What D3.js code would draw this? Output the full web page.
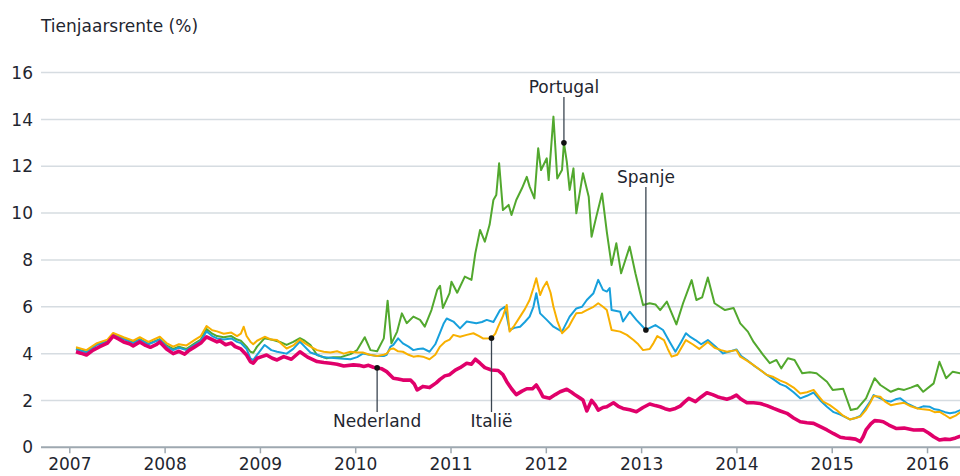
<!DOCTYPE html>
<html>
<head>
<meta charset="utf-8">
<script src="https://cdn.jsdelivr.net/npm/d3@7"></script>
<style>
  body { margin: 0; background: #fff; }
  svg text { font-family: "DejaVu Sans", Verdana, sans-serif; fill: #1f2630; }
</style>
</head>
<body>
<div id="chart"></div>
<script>
// tienjaarsrente per land, [jaar (decimaal), rente %]
const yearTicks = [2007, 2008, 2009, 2010, 2011, 2012, 2013, 2014, 2015, 2016];
const rateTicks = [0, 2, 4, 6, 8, 10, 12, 14, 16];

const nederland = [
  [2007.07, 4.08], [2007.12, 4.02], [2007.18, 3.94], [2007.25, 4.15], [2007.32, 4.3], [2007.40, 4.45], [2007.46, 4.75],
  [2007.52, 4.62], [2007.57, 4.5], [2007.63, 4.42], [2007.67, 4.33], [2007.74, 4.5], [2007.80, 4.35], [2007.85, 4.27],
  [2007.91, 4.38], [2007.95, 4.5], [2008.02, 4.2], [2008.09, 4.0], [2008.15, 4.1], [2008.21, 3.98], [2008.26, 4.15],
  [2008.32, 4.3], [2008.38, 4.45], [2008.44, 4.72], [2008.50, 4.6], [2008.55, 4.5], [2008.58, 4.55], [2008.64, 4.38],
  [2008.70, 4.45], [2008.74, 4.3], [2008.80, 4.2], [2008.86, 3.94], [2008.90, 3.66], [2008.93, 3.59], [2008.97, 3.8],
  [2009.02, 3.87], [2009.07, 3.94], [2009.13, 3.8], [2009.18, 3.73], [2009.25, 3.87], [2009.33, 3.76], [2009.42, 4.08],
  [2009.50, 3.85], [2009.60, 3.66], [2009.67, 3.62], [2009.74, 3.59], [2009.81, 3.55], [2009.88, 3.47], [2009.98, 3.52],
  [2010.04, 3.5], [2010.09, 3.45], [2010.14, 3.5], [2010.19, 3.42], [2010.23, 3.39], [2010.28, 3.35], [2010.33, 3.23],
  [2010.40, 2.95], [2010.45, 2.92], [2010.50, 2.87], [2010.58, 2.87], [2010.62, 2.7], [2010.65, 2.45], [2010.71, 2.6],
  [2010.78, 2.55], [2010.85, 2.75], [2010.89, 2.9], [2010.94, 3.05], [2010.99, 3.1], [2011.05, 3.3], [2011.10, 3.4],
  [2011.17, 3.59], [2011.22, 3.55], [2011.26, 3.76], [2011.31, 3.59], [2011.36, 3.4], [2011.43, 3.3], [2011.50, 3.28],
  [2011.55, 3.1], [2011.59, 2.8], [2011.64, 2.5], [2011.69, 2.25], [2011.75, 2.4], [2011.80, 2.5], [2011.86, 2.5],
  [2011.90, 2.66], [2011.94, 2.4], [2011.97, 2.16], [2012.04, 2.09], [2012.10, 2.25], [2012.15, 2.37], [2012.22, 2.48],
  [2012.27, 2.35], [2012.31, 2.23], [2012.36, 2.1], [2012.39, 2.02], [2012.43, 1.55], [2012.48, 2.0], [2012.52, 1.8],
  [2012.55, 1.59], [2012.60, 1.7], [2012.64, 1.73], [2012.71, 1.9], [2012.76, 1.75], [2012.81, 1.66], [2012.88, 1.6],
  [2012.95, 1.52], [2013.02, 1.7], [2013.09, 1.85], [2013.15, 1.78], [2013.20, 1.73], [2013.25, 1.65], [2013.30, 1.59],
  [2013.36, 1.66], [2013.41, 1.76], [2013.46, 1.95], [2013.50, 2.09], [2013.57, 1.95], [2013.63, 2.15], [2013.69, 2.33],
  [2013.75, 2.25], [2013.80, 2.16], [2013.85, 2.1], [2013.90, 2.05], [2013.95, 2.12], [2014.00, 2.23], [2014.05, 2.05],
  [2014.11, 1.9], [2014.18, 1.9], [2014.25, 1.87], [2014.32, 1.78], [2014.39, 1.66], [2014.46, 1.55], [2014.53, 1.45],
  [2014.60, 1.25], [2014.67, 1.09], [2014.74, 1.05], [2014.81, 1.02], [2014.88, 0.88], [2014.95, 0.74], [2015.02, 0.58],
  [2015.09, 0.43], [2015.14, 0.4], [2015.19, 0.38], [2015.25, 0.35], [2015.30, 0.24], [2015.33, 0.45], [2015.36, 0.74],
  [2015.41, 1.0], [2015.45, 1.14], [2015.50, 1.12], [2015.54, 1.09], [2015.60, 0.95], [2015.68, 0.8], [2015.76, 0.82],
  [2015.86, 0.74], [2015.96, 0.75], [2016.02, 0.6], [2016.07, 0.45], [2016.13, 0.31], [2016.19, 0.35], [2016.24, 0.33],
  [2016.30, 0.4], [2016.35, 0.48]
];

const italie = [
  [2007.07, 4.27], [2007.18, 4.15], [2007.29, 4.45], [2007.40, 4.6], [2007.46, 4.88], [2007.57, 4.7], [2007.67, 4.55],
  [2007.74, 4.7], [2007.83, 4.5], [2007.95, 4.72], [2008.02, 4.45], [2008.09, 4.3], [2008.15, 4.4], [2008.23, 4.35],
  [2008.32, 4.6], [2008.38, 4.75], [2008.44, 5.18], [2008.50, 5.0], [2008.55, 4.95], [2008.62, 4.85], [2008.70, 4.9],
  [2008.76, 4.75], [2008.80, 4.85], [2008.83, 5.15], [2008.86, 4.75], [2008.90, 4.51], [2008.93, 4.4], [2008.97, 4.55],
  [2009.05, 4.72], [2009.12, 4.6], [2009.18, 4.58], [2009.28, 4.22], [2009.35, 4.35], [2009.42, 4.6], [2009.47, 4.45],
  [2009.53, 4.3], [2009.60, 4.15], [2009.67, 4.08], [2009.74, 4.05], [2009.81, 4.1], [2009.88, 4.0], [2009.95, 4.08],
  [2010.02, 4.05], [2010.08, 4.05], [2010.15, 3.95], [2010.23, 3.9], [2010.30, 3.95], [2010.33, 4.0], [2010.37, 4.2],
  [2010.40, 4.22], [2010.45, 4.1], [2010.50, 4.08], [2010.56, 3.95], [2010.61, 3.87], [2010.66, 3.9], [2010.71, 3.87],
  [2010.78, 3.76], [2010.84, 3.95], [2010.89, 4.3], [2010.94, 4.5], [2010.99, 4.6], [2011.03, 4.8], [2011.10, 4.72],
  [2011.17, 4.8], [2011.24, 4.87], [2011.30, 4.75], [2011.34, 4.65], [2011.43, 4.66], [2011.47, 4.85], [2011.50, 5.15],
  [2011.55, 5.6], [2011.59, 6.08], [2011.62, 4.94], [2011.67, 5.2], [2011.73, 5.58], [2011.78, 5.9], [2011.83, 6.29],
  [2011.87, 6.8], [2011.90, 7.22], [2011.94, 6.5], [2011.97, 6.8], [2012.01, 7.07], [2012.05, 6.6], [2012.08, 6.0],
  [2012.12, 5.4], [2012.17, 4.87], [2012.24, 5.15], [2012.28, 5.45], [2012.32, 5.72], [2012.38, 5.75], [2012.43, 5.86],
  [2012.50, 6.0], [2012.55, 6.15], [2012.60, 6.0], [2012.64, 5.86], [2012.69, 5.01], [2012.78, 4.94], [2012.85, 4.8],
  [2012.92, 4.58], [2012.97, 4.4], [2013.02, 4.15], [2013.09, 4.2], [2013.13, 4.45], [2013.17, 4.75], [2013.24, 4.58],
  [2013.28, 4.2], [2013.32, 3.87], [2013.38, 3.95], [2013.47, 4.58], [2013.54, 4.4], [2013.61, 4.2], [2013.70, 4.5],
  [2013.77, 4.25], [2013.84, 4.15], [2013.90, 4.08], [2014.00, 4.15], [2014.04, 3.87], [2014.11, 3.7], [2014.18, 3.51],
  [2014.25, 3.3], [2014.32, 3.09], [2014.39, 3.0], [2014.46, 2.85], [2014.52, 2.75], [2014.60, 2.55], [2014.67, 2.3],
  [2014.74, 2.35], [2014.81, 2.45], [2014.86, 2.2], [2014.91, 1.95], [2014.98, 1.8], [2015.05, 1.59], [2015.12, 1.35],
  [2015.19, 1.19], [2015.25, 1.25], [2015.30, 1.31], [2015.36, 1.6], [2015.41, 1.95], [2015.44, 2.19], [2015.51, 2.16],
  [2015.56, 1.95], [2015.62, 1.8], [2015.68, 1.85], [2015.76, 1.9], [2015.83, 1.75], [2015.90, 1.66], [2015.96, 1.62],
  [2016.03, 1.59], [2016.08, 1.5], [2016.13, 1.52], [2016.18, 1.4], [2016.24, 1.24], [2016.30, 1.35], [2016.35, 1.5]
];

const spanje = [
  [2007.07, 4.18], [2007.18, 4.05], [2007.29, 4.38], [2007.40, 4.5], [2007.46, 4.8], [2007.57, 4.62], [2007.67, 4.45],
  [2007.74, 4.6], [2007.83, 4.4], [2007.95, 4.6], [2008.02, 4.3], [2008.09, 4.15], [2008.15, 4.25], [2008.23, 4.15],
  [2008.32, 4.4], [2008.38, 4.55], [2008.44, 4.95], [2008.50, 4.75], [2008.55, 4.65], [2008.62, 4.6], [2008.70, 4.65],
  [2008.76, 4.5], [2008.80, 4.45], [2008.86, 4.2], [2008.90, 3.8], [2008.93, 3.72], [2008.97, 3.95], [2009.05, 4.37],
  [2009.12, 4.15], [2009.18, 4.08], [2009.28, 4.0], [2009.35, 4.2], [2009.42, 4.51], [2009.47, 4.3], [2009.53, 4.05],
  [2009.60, 3.95], [2009.67, 3.84], [2009.74, 3.82], [2009.81, 3.8], [2009.88, 3.78], [2009.95, 3.76], [2010.02, 3.85],
  [2010.08, 4.0], [2010.15, 3.95], [2010.23, 3.9], [2010.30, 3.9], [2010.33, 3.95], [2010.37, 4.3], [2010.40, 4.37],
  [2010.45, 4.65], [2010.50, 4.44], [2010.56, 4.3], [2010.61, 4.15], [2010.66, 4.2], [2010.71, 4.22], [2010.78, 4.08],
  [2010.84, 4.4], [2010.89, 4.9], [2010.93, 5.3], [2010.96, 5.5], [2011.03, 5.37], [2011.10, 5.08], [2011.17, 5.37],
  [2011.27, 5.3], [2011.33, 5.35], [2011.38, 5.44], [2011.45, 5.35], [2011.52, 5.86], [2011.57, 6.0], [2011.62, 5.01],
  [2011.67, 5.1], [2011.73, 5.15], [2011.78, 5.35], [2011.83, 5.58], [2011.87, 6.0], [2011.90, 6.58], [2011.94, 5.72],
  [2012.01, 5.44], [2012.08, 5.15], [2012.17, 4.94], [2012.25, 5.58], [2012.32, 5.93], [2012.38, 6.0], [2012.43, 6.29],
  [2012.50, 6.58], [2012.55, 7.15], [2012.60, 6.72], [2012.64, 6.65], [2012.67, 6.8], [2012.69, 5.86], [2012.78, 5.79],
  [2012.81, 5.37], [2012.88, 5.79], [2012.95, 5.44], [2013.05, 5.01], [2013.15, 5.22], [2013.23, 5.01], [2013.30, 4.5],
  [2013.36, 4.08], [2013.42, 4.5], [2013.47, 4.87], [2013.52, 4.7], [2013.57, 4.58], [2013.63, 4.4], [2013.70, 4.58],
  [2013.78, 4.3], [2013.86, 4.01], [2013.94, 4.1], [2014.00, 4.18], [2014.05, 3.9], [2014.11, 3.73], [2014.18, 3.5],
  [2014.25, 3.3], [2014.32, 3.09], [2014.39, 2.9], [2014.46, 2.7], [2014.52, 2.6], [2014.60, 2.35], [2014.67, 2.09],
  [2014.74, 2.2], [2014.81, 2.34], [2014.88, 2.0], [2014.95, 1.73], [2015.02, 1.5], [2015.09, 1.4], [2015.19, 1.19],
  [2015.25, 1.25], [2015.30, 1.34], [2015.36, 1.7], [2015.41, 2.0], [2015.44, 2.23], [2015.51, 2.09], [2015.56, 2.0],
  [2015.62, 1.95], [2015.67, 2.05], [2015.72, 2.09], [2015.80, 1.85], [2015.90, 1.66], [2015.96, 1.75], [2016.03, 1.73],
  [2016.08, 1.62], [2016.13, 1.59], [2016.19, 1.5], [2016.24, 1.45], [2016.30, 1.5], [2016.35, 1.59]
];

const portugal = [
  [2007.07, 4.2], [2007.18, 4.08], [2007.29, 4.4], [2007.40, 4.52], [2007.46, 4.82], [2007.57, 4.65], [2007.67, 4.48],
  [2007.74, 4.62], [2007.83, 4.42], [2007.95, 4.62], [2008.02, 4.35], [2008.09, 4.2], [2008.15, 4.3], [2008.23, 4.2],
  [2008.32, 4.45], [2008.38, 4.6], [2008.44, 5.05], [2008.50, 4.85], [2008.55, 4.75], [2008.62, 4.7], [2008.70, 4.75],
  [2008.76, 4.6], [2008.80, 4.55], [2008.86, 4.3], [2008.90, 4.08], [2008.93, 4.04], [2008.97, 4.3], [2009.05, 4.66],
  [2009.14, 4.58], [2009.21, 4.5], [2009.28, 4.37], [2009.35, 4.5], [2009.42, 4.66], [2009.47, 4.55], [2009.53, 4.37],
  [2009.60, 3.94], [2009.70, 3.8], [2009.77, 3.85], [2009.84, 3.84], [2009.95, 3.98], [2010.02, 4.15], [2010.10, 4.7],
  [2010.16, 4.15], [2010.23, 4.1], [2010.30, 4.65], [2010.34, 6.26], [2010.38, 4.44], [2010.44, 4.94], [2010.49, 5.72],
  [2010.54, 5.3], [2010.61, 5.58], [2010.68, 5.44], [2010.73, 5.15], [2010.80, 5.86], [2010.86, 6.72], [2010.89, 6.9],
  [2010.92, 5.95], [2010.99, 6.58], [2011.01, 7.07], [2011.07, 6.6], [2011.15, 7.29], [2011.22, 7.15], [2011.26, 8.28],
  [2011.31, 9.28], [2011.36, 8.78], [2011.41, 9.5], [2011.45, 10.56], [2011.48, 10.77], [2011.51, 12.13], [2011.55, 10.13],
  [2011.61, 10.35], [2011.64, 9.92], [2011.69, 10.56], [2011.75, 11.06], [2011.80, 11.55], [2011.83, 11.13], [2011.88, 10.63],
  [2011.92, 12.77], [2011.95, 11.84], [2012.01, 12.34], [2012.03, 11.41], [2012.08, 14.12], [2012.12, 11.48], [2012.17, 11.84],
  [2012.19, 13.0], [2012.22, 12.2], [2012.25, 10.99], [2012.29, 11.91], [2012.32, 9.99], [2012.39, 11.7], [2012.45, 10.7],
  [2012.48, 8.99], [2012.53, 9.85], [2012.59, 10.84], [2012.64, 9.2], [2012.69, 7.78], [2012.74, 8.71], [2012.79, 7.43],
  [2012.88, 8.57], [2012.94, 7.43], [2013.02, 6.08], [2013.09, 6.15], [2013.15, 6.1], [2013.20, 5.86], [2013.27, 6.22],
  [2013.37, 5.25], [2013.44, 6.15], [2013.53, 7.14], [2013.58, 6.29], [2013.64, 6.4], [2013.70, 7.25], [2013.77, 6.15],
  [2013.88, 5.86], [2013.97, 5.95], [2014.04, 5.29], [2014.12, 4.94], [2014.18, 4.5], [2014.28, 3.95], [2014.35, 3.59],
  [2014.42, 3.73], [2014.47, 3.37], [2014.54, 3.8], [2014.61, 3.73], [2014.69, 3.16], [2014.77, 3.2], [2014.84, 3.16],
  [2014.95, 2.8], [2015.01, 2.45], [2015.12, 2.5], [2015.20, 1.59], [2015.27, 1.66], [2015.36, 2.09], [2015.45, 2.95],
  [2015.51, 2.66], [2015.62, 2.37], [2015.70, 2.5], [2015.76, 2.45], [2015.83, 2.55], [2015.90, 2.66], [2015.96, 2.37],
  [2016.07, 2.73], [2016.13, 3.65], [2016.20, 2.95], [2016.27, 3.23], [2016.35, 3.16]
];

// labels with the year where the pointer touches the line
const annotations = [
  { label: "Portugal", series: portugal, at: 2012.19, side: "top", textY: 93 },
  { label: "Spanje", series: spanje, at: 2013.05, side: "top", textY: 183 },
  { label: "Nederland", series: nederland, at: 2010.23, side: "bottom", textY: 427 },
  { label: "Italië", series: italie, at: 2011.43, side: "bottom", textY: 427 }
];

const width = 960, height = 476;
const plotLeft = 41, plotRight = 960, plotTop = 72.6, plotBottom = 447.3;

const svg = d3.select("#chart").append("svg")
    .attr("width", width)
    .attr("height", height);

const x = d3.scaleLinear()
    .domain([2006.703, 2016.346])
    .range([plotLeft, plotRight]);

const y = d3.scaleLinear()
    .domain([0, 16])
    .range([plotBottom, plotTop]);

// title
svg.append("text")
    .attr("x", plotLeft)
    .attr("y", 31.5)
    .attr("font-size", 17)
    .text("Tienjaarsrente (%)");

// gridlines + y labels
const yAxis = svg.append("g");
yAxis.selectAll(".grid")
    .data(rateTicks.filter(d => d > 0))
    .enter().append("line")
    .attr("x1", plotLeft)
    .attr("x2", plotRight)
    .attr("y1", d => y(d))
    .attr("y2", d => y(d))
    .attr("stroke", "#d6dce1")
    .attr("stroke-width", 1.5);

yAxis.selectAll(".ylabel")
    .data(rateTicks)
    .enter().append("text")
    .attr("x", 33)
    .attr("y", d => y(d))
    .attr("dy", "0.36em")
    .attr("text-anchor", "end")
    .attr("font-size", 17)
    .text(d => d);

// x axis
const xAxis = svg.append("g")
    .attr("transform", "translate(0," + plotBottom + ")")
    .call(d3.axisBottom(x)
        .tickValues(yearTicks)
        .tickFormat(d3.format("d"))
        .tickSize(6)
        .tickPadding(5));
xAxis.select(".domain")
    .attr("d", "M" + plotLeft + ",0H" + plotRight)
    .attr("stroke", "#9ea8b0")
    .attr("stroke-width", 2);
xAxis.selectAll(".tick line")
    .attr("stroke", "#9ea8b0")
    .attr("stroke-width", 1.5);
xAxis.selectAll(".tick text")
    .attr("font-size", 17)
    .attr("font-family", "DejaVu Sans, Verdana, sans-serif")
    .attr("fill", "#1f2630");

// lines
const line = d3.line()
    .x(d => x(d[0]))
    .y(d => y(d[1]));

const series = [
    { data: portugal, color: "#52a82e", w: 2 },
    { data: spanje, color: "#17a0dc", w: 2 },
    { data: italie, color: "#f8b000", w: 2 },
    { data: nederland, color: "#e0006a", w: 3.6 }
];

svg.append("g").selectAll("path")
    .data(series)
    .enter().append("path")
    .attr("d", d => line(d.data))
    .attr("fill", "none")
    .attr("stroke", d => d.color)
    .attr("stroke-width", d => d.w)
    .attr("stroke-linejoin", "round");

// value on the line at a given year
function valueAt(data, t) {
    const i = d3.bisector(d => d[0]).left(data, t);
    if (i <= 0) return data[0][1];
    if (i >= data.length) return data[data.length - 1][1];
    const a = data[i - 1], b = data[i];
    return a[1] + (b[1] - a[1]) * (t - a[0]) / (b[0] - a[0]);
}

const ann = svg.append("g");
annotations.forEach(a => {
    const px = x(a.at);
    const py = y(valueAt(a.series, a.at));
    const y2 = a.side === "top" ? a.textY + 4 : a.textY - 15;
    ann.append("line")
        .attr("x1", px).attr("x2", px)
        .attr("y1", py).attr("y2", y2)
        .attr("stroke", "#3a4550")
        .attr("stroke-width", 1.3);
    ann.append("circle")
        .attr("cx", px).attr("cy", py)
        .attr("r", 2.8)
        .attr("fill", "#111");
    ann.append("text")
        .attr("x", px)
        .attr("y", a.textY)
        .attr("text-anchor", "middle")
        .attr("font-size", 17)
        .text(a.label);
});
</script>
</body>
</html>
